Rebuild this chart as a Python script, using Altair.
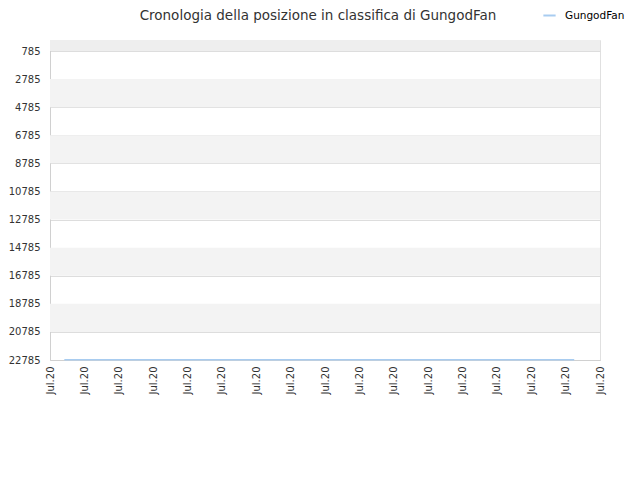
import altair as alt
import pandas as pd

# data
dates = ["2020-07-01T10:00:00", "2020-07-16T06:00:00"]
ranks = [22760, 22760]
player = "GungodFan"

tick_values = [785, 2785, 4785, 6785, 8785, 10785, 12785, 14785, 16785, 18785, 20785, 22785]
band_start = [1, 2785, 6785, 10785, 14785, 18785]
band_end = [785, 4785, 8785, 12785, 16785, 20785]
band_color = ["#eeeeee", "#f3f3f3", "#f3f3f3", "#f3f3f3", "#f3f3f3", "#f3f3f3"]

df = pd.DataFrame({"date": dates, "rank": ranks, "player": [player] * len(dates)})
bands = pd.DataFrame({"y1": band_start, "y2": band_end, "c": band_color})

ydom = [1, 22785]
xdom = ["2020-07-01T00:00:00", "2020-07-17T00:00:00"]

yscale = alt.Scale(domain=ydom, reverse=True, nice=False, zero=False)
yaxis = alt.Axis(
    title=None,
    values=tick_values,
    format="d",
    ticks=False,
    grid=True,
    gridColor="#dddddd",
    domainColor="#d0d0d0",
    labelFontSize=10,
    labelColor="#333333",
    labelFont="DejaVu Sans",
    labelPadding=10,
    labelFlush=False,
    labelOverlap=False,
)

band_layer = alt.Chart(bands).mark_rect().encode(
    y=alt.Y("y1:Q", scale=yscale, axis=yaxis),
    y2="y2:Q",
    x=alt.value(0),
    x2=alt.value(550),
    color=alt.Color("c:N", scale=None),
)

line = alt.Chart(df).mark_line(strokeWidth=1.5).encode(
    x=alt.X(
        "date:T",
        scale=alt.Scale(domain=xdom, nice=False),
        axis=alt.Axis(
            title=None,
            format="%b.%y",
            tickCount={"interval": "day", "step": 1},
            labelAngle=270,
            labelAlign="right",
            labelBaseline="middle",
            labelFontSize=10,
            labelColor="#333333",
            labelFont="DejaVu Sans",
            ticks=False,
            grid=False,
            domainColor="#d0d0d0",
            labelPadding=6,
            labelFlush=False,
            labelOverlap=False,
        ),
    ),
    y=alt.Y("rank:Q", scale=yscale, axis=yaxis),
    color=alt.Color(
        "player:N",
        scale=alt.Scale(range=["#a8ccf0"]),
        legend=alt.Legend(
            title=None,
            orient="none",
            legendX=492,
            legendY=-32,
            symbolType="stroke",
            symbolSize=150,
            symbolStrokeWidth=2,
            labelFontSize=10.5,
            labelOffset=8,
            labelFont="DejaVu Sans",
            labelColor="#000000",
            labelLimit=200,
        ),
    ),
)

chart = alt.layer(band_layer, line).properties(
    width=550,
    height=320,
    padding={"left": 42, "top": 32, "right": 30, "bottom": 100},
    autosize=alt.AutoSizeParams(type="none"),
    title=alt.TitleParams(
        "Cronologia della posizione in classifica di GungodFan",
        fontSize=13.5,
        font="DejaVu Sans",
        fontWeight="normal",
        color="#333333",
        anchor="middle",
        frame="group",
        dx=-7,
        offset=0,
        dy=14,
    ),
).configure_view(stroke="#e0e0e0")

chart.save("out.html", embed_options={"renderer": "svg", "actions": False})
